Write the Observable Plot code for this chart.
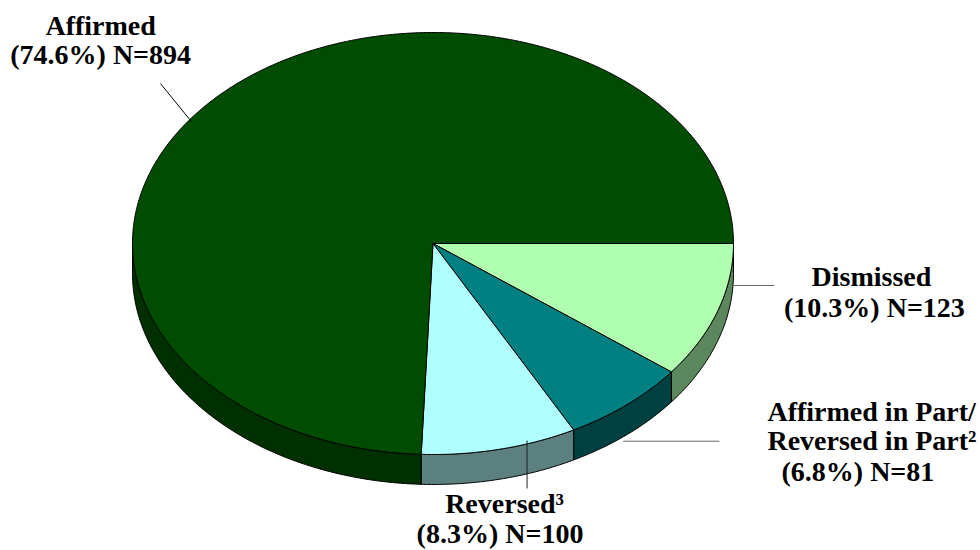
<!DOCTYPE html>
<html>
<head>
<meta charset="utf-8">
<script src="https://cdn.jsdelivr.net/npm/d3@7"></script>
<script src="https://cdn.jsdelivr.net/npm/@observablehq/plot@0.6"></script>
<style>html,body{margin:0;padding:0;background:#fff}svg{display:block}</style>
</head>
<body>
<div id="chart"></div>
<script>
// Values, clockwise from 3 o'clock
const categories = ["Dismissed", "Affirmed in Part/Reversed in Part", "Reversed", "Affirmed"];
const counts = [123, 81, 100, 894];
const topColors = ["#b0ffb0", "#008080", "#b0ffff", "#004c00"];
const sideColors = ["#5c865c", "#004040", "#5c8080", "#003000"];

// Text lines, in units of the pie radius from its centre
const labelText = ["Affirmed", "(74.6%) N=894", "Dismissed", "(10.3%) N=123", "Affirmed in Part/", "Reversed in Part²", "(6.8%) N=81", "Reversed³", "(8.3%) N=100"];
const labelX = [-1.106, -1.106, 1.459, 1.469, 1.113, 1.113, 1.414, 0.238, 0.223];
const labelY = [-1.033, -0.891, 0.161, 0.308, 0.801, 0.938, 1.085, 1.237, 1.379];
const labelAnchor = ["middle", "middle", "middle", "middle", "start", "start", "middle", "middle", "middle"];

const leaders = [
  {x1: -0.907, y1: -0.758, x2: -0.804, y2: -0.578, color: "#000"},
  {x1: 1.0, y1: 0.199, x2: 1.136, y2: 0.199, color: "#666"},
  {x1: 0.633, y1: 0.937, x2: 0.953, y2: 0.937, color: "#666"},
  {x1: 0.313, y1: 0.934, x2: 0.313, y2: 1.161, color: "#222"}
];

const depth = 0.142;
const tilt = 0.9 * Math.PI / 180; // perspective stretch of the front of the pie
const arcs = d3.pie().sort(null).startAngle(0).endAngle(2 * Math.PI)(counts);
const step = Math.PI / 360;

function arcPoints(a0, a1) {
  const n = Math.max(1, Math.ceil((a1 - a0) / step));
  return d3.range(n + 1).map(i => {
    const t = a0 + (a1 - a0) * i / n;
    const a = t + tilt * Math.sin(t);
    return {x: Math.cos(a), y: Math.sin(a)};
  });
}

const tops = arcs.map(d => [{x: 0, y: 0}, ...arcPoints(d.startAngle, d.endAngle), {x: 0, y: 0}]);
const sides = arcs.map(d => {
  const a1 = Math.min(d.endAngle, Math.PI);
  if (d.startAngle >= Math.PI) return [];
  const edge = arcPoints(d.startAngle, a1);
  const lower = edge.slice().reverse().map(p => ({x: p.x, y: p.y + depth}));
  return [...edge, ...lower, edge[0]];
});

const labels = labelText.map((text, i) => ({text, x: labelX[i], y: labelY[i], anchor: labelAnchor[i]}));
const textMark = anchor => Plot.text(labels.filter(d => d.anchor === anchor), {
  x: "x", y: "y", text: "text", textAnchor: anchor,
  fontFamily: "Liberation Serif", fontWeight: "bold", fontSize: 28, fill: "#000"
});

const chart = Plot.plot({
  width: 980, height: 550,
  marginTop: 0, marginRight: 0, marginBottom: 0, marginLeft: 0,
  x: {domain: [-432.5 / 300.5, 547.5 / 300.5], range: [0, 980], axis: null},
  y: {domain: [-243 / 211, 307 / 211], range: [0, 550], axis: null},
  marks: [
    ...sides.map((pts, i) => Plot.line(pts, {x: "x", y: "y", fill: sideColors[i], stroke: "#000", strokeWidth: 1})),
    ...tops.map((pts, i) => Plot.line(pts, {x: "x", y: "y", fill: topColors[i], stroke: "#000", strokeWidth: 1})),
    Plot.link(leaders, {x1: "x1", y1: "y1", x2: "x2", y2: "y2", stroke: "color", strokeWidth: 1}),
    textMark("middle"),
    textMark("start")
  ]
});
document.getElementById("chart").append(chart);
</script>
</body>
</html>
